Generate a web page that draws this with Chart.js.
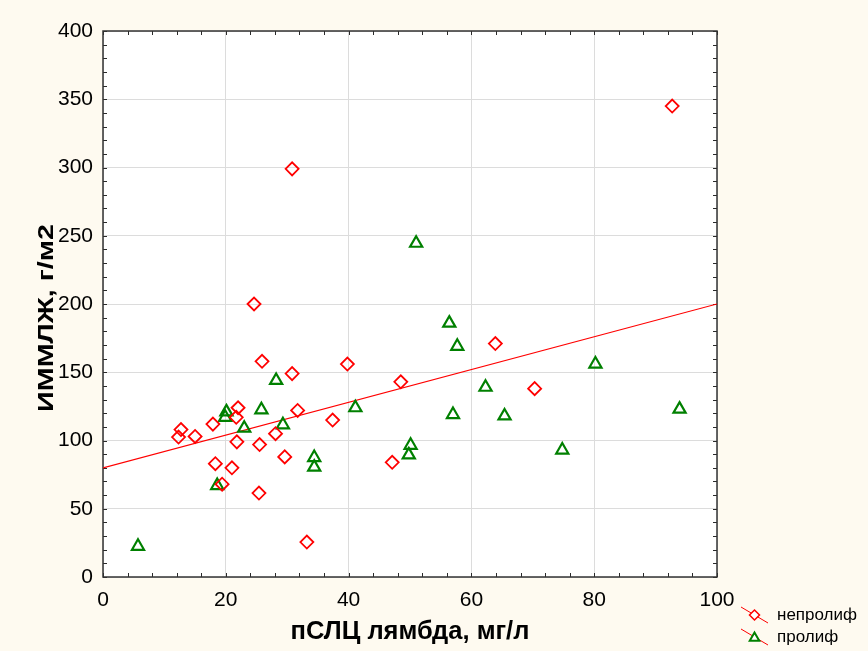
<!DOCTYPE html>
<html lang="ru">
<head>
<meta charset="utf-8">
<title>ИММЛЖ и пСЛЦ лямбда</title>
<script src="https://cdn.jsdelivr.net/npm/chart.js@4.4.1/dist/chart.umd.min.js"></script>
<style>
    html, body { margin: 0; padding: 0; background: #fefaf0; }
    canvas { display: block; }
</style>
</head>
<body>
<canvas id="scatter-chart" width="868" height="651"></canvas>
<script>
// непролиф (red diamonds)
const nonProlifX = [25.9, 30.8, 39.8, 48.5, 22.0, 21.7, 12.7, 12.3, 15.0, 17.9, 31.7, 37.4, 28.1, 21.8,
    25.5, 29.6, 18.3, 21.0, 47.1, 19.4, 25.4, 33.2, 24.6, 30.8, 92.7, 63.9, 70.3];
const nonProlifY = [158, 149, 156, 143, 124, 117, 108, 102.5, 103, 112, 122, 115, 105, 99,
    97, 88, 83, 80, 84, 68, 61.5, 25.6, 200, 299, 345, 171, 138];

// пролиф (green triangles)
const prolifX = [28.2, 25.8, 20.1, 19.9, 23.0, 29.3, 41.1, 34.4, 34.4, 50.1, 49.8, 18.6, 5.7,
    51.0, 56.4, 57.7, 80.2, 62.3, 57.0, 65.4, 93.9, 74.8];
const prolifY = [144, 122.5, 121, 117, 109, 111.5, 124, 87.5, 80.5, 96.5, 89.5, 67, 22.5,
    244.5, 186, 169, 156, 139, 119, 118, 123, 93];

// regression line end points
const fitX = [0, 100];
const fitY = [80, 200];

const seriesNames = ["непролиф", "пролиф"];
const xTitle = "пСЛЦ лямбда, мг/л";
const yTitle = "ИММЛЖ, г/м2";

const RED = "#ff0000";
const GREEN = "#008000";
const FONT = "'Liberation Sans', Arial, sans-serif";

function toPoints(xs, ys) {
    return xs.map((x, i) => ({ x: x, y: ys[i] }));
}

const backgroundPlugin = {
    id: "background",
    beforeDraw(chart) {
        const ctx = chart.ctx;
        const a = chart.chartArea;
        ctx.save();
        ctx.fillStyle = "#fefaf0";
        ctx.fillRect(0, 0, chart.width, chart.height);
        ctx.fillStyle = "#ffffff";
        ctx.fillRect(a.left, a.top, a.right - a.left, a.bottom - a.top);
        ctx.restore();
    }
};

// frame round the plot plus small inward ticks on all four sides
const framePlugin = {
    id: "frame",
    beforeDatasetsDraw(chart) {
        const ctx = chart.ctx;
        const a = chart.chartArea;
        const x = chart.scales.x;
        const y = chart.scales.y;
        ctx.save();
        ctx.strokeStyle = "#2a2a2a";
        ctx.lineWidth = 1;
        ctx.beginPath();
        for (let v = 0; v <= 100; v += 4) {
            const px = Math.round(x.getPixelForValue(v)) + 0.5;
            ctx.moveTo(px, a.bottom);
            ctx.lineTo(px, a.bottom - 4);
            ctx.moveTo(px, a.top);
            ctx.lineTo(px, a.top + 4);
        }
        for (let v = 0; v <= 400; v += 10) {
            const py = Math.round(y.getPixelForValue(v)) + 0.5;
            ctx.moveTo(a.left, py);
            ctx.lineTo(a.left + 4, py);
            ctx.moveTo(a.right, py);
            ctx.lineTo(a.right - 4, py);
        }
        ctx.stroke();
        ctx.lineWidth = 1.5;
        ctx.strokeStyle = "#333333";
        ctx.strokeRect(a.left, a.top, a.right - a.left, a.bottom - a.top);
        ctx.restore();
    }
};

// y title: the original is a stretched bold face, so widen it a little
const yTitlePlugin = {
    id: "yTitle",
    afterDraw(chart) {
        const ctx = chart.ctx;
        ctx.save();
        ctx.translate(46.5, 318);
        ctx.rotate(-Math.PI / 2);
        ctx.font = "bold 22px " + FONT;
        ctx.fillStyle = "#000000";
        ctx.textAlign = "center";
        ctx.textBaseline = "middle";
        const w = ctx.measureText(yTitle).width;
        ctx.scale(188 / w, 1);
        ctx.fillText(yTitle, 0, 0);
        ctx.restore();
    }
};

function drawDiamond(ctx, cx, cy, r) {
    ctx.beginPath();
    ctx.moveTo(cx, cy - r);
    ctx.lineTo(cx + r, cy);
    ctx.lineTo(cx, cy + r);
    ctx.lineTo(cx - r, cy);
    ctx.closePath();
}

function drawTriangle(ctx, cx, cy, r) {
    ctx.beginPath();
    ctx.moveTo(cx, cy - r);
    ctx.lineTo(cx + r * 0.866, cy + r / 2);
    ctx.lineTo(cx - r * 0.866, cy + r / 2);
    ctx.closePath();
}

// Statistica-style legend: red fit line crossing each marker
const legendPlugin = {
    id: "sideLegend",
    afterDraw(chart) {
        const ctx = chart.ctx;
        const rows = [615, 637];
        ctx.save();
        rows.forEach((rowY, i) => {
            ctx.strokeStyle = RED;
            ctx.lineWidth = 1;
            ctx.beginPath();
            ctx.moveTo(741, rowY - 8);
            ctx.lineTo(768, rowY + 8);
            ctx.stroke();
            ctx.fillStyle = "#ffffff";
            if (i === 0) {
                drawDiamond(ctx, 754.5, rowY, 5);
                ctx.fill();
                ctx.strokeStyle = RED;
                ctx.lineWidth = 1.5;
                ctx.stroke();
            } else {
                drawTriangle(ctx, 754.5, rowY + 1, 5.5);
                ctx.fill();
                ctx.strokeStyle = GREEN;
                ctx.lineWidth = 2;
                ctx.stroke();
            }
            ctx.fillStyle = "#000000";
            ctx.font = "17px " + FONT;
            ctx.textBaseline = "middle";
            ctx.textAlign = "left";
            ctx.fillText(seriesNames[i], 777, rowY);
        });
        ctx.restore();
    }
};

function createScatterChart() {
    const ctx = document.querySelector("#scatter-chart");
    const data = {
        datasets: [{
            label: seriesNames[0],
            data: toPoints(nonProlifX, nonProlifY),
            pointStyle: "rectRot",
            pointRadius: 6.5,
            pointBorderWidth: 1.8,
            borderColor: RED,
            backgroundColor: "rgba(255,255,255,0)",
            order: 1
        }, {
            label: seriesNames[1],
            data: toPoints(prolifX, prolifY),
            pointStyle: "triangle",
            pointRadius: 7,
            pointBorderWidth: 2.2,
            borderColor: GREEN,
            backgroundColor: "rgba(255,255,255,0)",
            order: 2
        }, {
            label: "fit",
            data: toPoints(fitX, fitY),
            showLine: true,
            pointRadius: 0,
            borderColor: RED,
            borderWidth: 1.2,
            order: 3
        }]
    };
    const tickFont = { family: FONT, size: 21 };
    const titleFont = { family: FONT, size: 25.5, weight: "bold" };
    const options = {
        responsive: false,
        animation: false,
        events: [],
        layout: {
            padding: { top: 31, right: 151, left: 0, bottom: 0 }
        },
        plugins: {
            legend: { display: false },
            tooltip: { enabled: false }
        },
        scales: {
            x: {
                type: "linear",
                min: 0,
                max: 100,
                ticks: { stepSize: 20, color: "#000000", font: tickFont, padding: 11 },
                grid: { color: "#dcdcdc", drawTicks: false },
                border: { display: false },
                title: { display: true, text: xTitle, color: "#000000", font: titleFont, padding: { top: 0, bottom: 4 } },
                afterFit: scale => { scale.height = 74; }
            },
            y: {
                type: "linear",
                min: 0,
                max: 400,
                ticks: { stepSize: 50, color: "#000000", font: tickFont, padding: 10 },
                grid: { color: "#dcdcdc", drawTicks: false },
                border: { display: false },
                title: { display: false, text: yTitle },
                afterFit: scale => { scale.width = 103; }
            }
        }
    };
    const config = {
        type: "scatter",
        data: data,
        options: options,
        plugins: [backgroundPlugin, framePlugin, yTitlePlugin, legendPlugin]
    };
    const scatterChart = new Chart(ctx, config);
}

createScatterChart();
</script>
</body>
</html>
